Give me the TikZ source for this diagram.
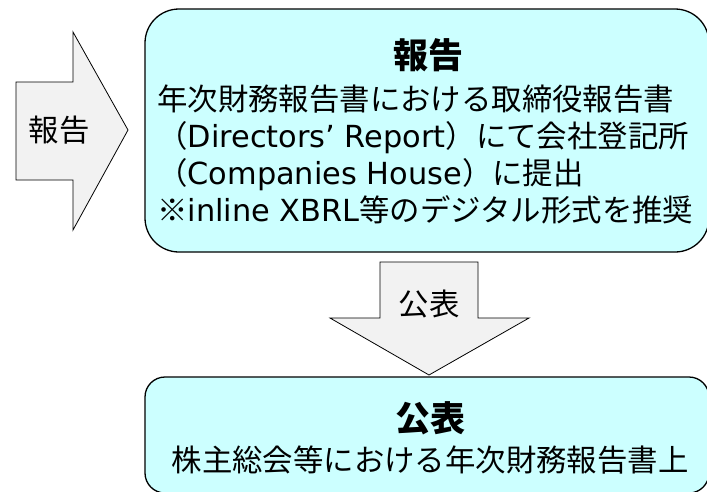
\documentclass[tikz,border=0pt]{standalone}
\usepackage{fontspec}
\setmainfont{Noto Sans CJK JP}
\newfontfamily\lat{DejaVu Sans}
\definecolor{boxfill}{RGB}{204,255,255}
\definecolor{arrowfill}{RGB}{242,242,242}
\tikzset{
  roundbox/.style={draw=black, line width=1.3pt, fill=boxfill, rounded corners=#1, inner sep=0pt, minimum width=564pt},
  blockarrow/.style={draw=black, line width=0.8pt, fill=arrowfill, line join=miter},
  bodytxt/.style={inner sep=0pt, font=\fontsize{30.4}{36}\selectfont, anchor=base west},
  titletxt/.style={inner sep=0pt, font=\fontsize{35}{42}\selectfont\bfseries, anchor=base},
  arrowlbl/.style={inner sep=0pt, font=\fontsize{30.4}{36}\selectfont, anchor=base}
}
\begin{document}
\begin{tikzpicture}[x=1pt,y=-1pt]
\useasboundingbox (0,0) rectangle (707,491);
\fill[white] (0,0) rectangle (707,491);
% boxes
\node[roundbox=34pt, minimum height=243pt] (top) at (427,130.5) {};
\node[roundbox=20pt, minimum height=116pt] (bot) at (427,435) {};
% block arrows
\draw[blockarrow] (16,82) -- (73,82) -- (73,32) -- (128,130) -- (73,230) -- (73,180) -- (16,180) -- cycle;
\draw[blockarrow] (380,262) -- (478,262) -- (478,318) -- (529,318) -- (429,375) -- (330,318) -- (380,318) -- cycle;
\node[arrowlbl] (lblreport) at (59,141) {報告};
\node[arrowlbl] (lblpublish) at (429,315) {公表};
% top box text
\node[titletxt] (t0) at (428,68) {報告};
\node[bodytxt] (t1) at (157,110) {年次財務報告書における取締役報告書};
\node[bodytxt] (t2) at (157,147) {（{\lat Directors’ Report}）にて会社登記所};
\node[bodytxt] (t3) at (157,184) {（{\lat Companies House}）に提出};
\node[bodytxt] (t4) at (157,221) {※{\lat inline XBRL}等のデジタル形式を推奨};
% bottom box text
\node[titletxt] (b0) at (430,431) {公表};
\node[bodytxt, anchor=base] (b1) at (430,471) {株主総会等における年次財務報告書上};
\end{tikzpicture}
\end{document}
